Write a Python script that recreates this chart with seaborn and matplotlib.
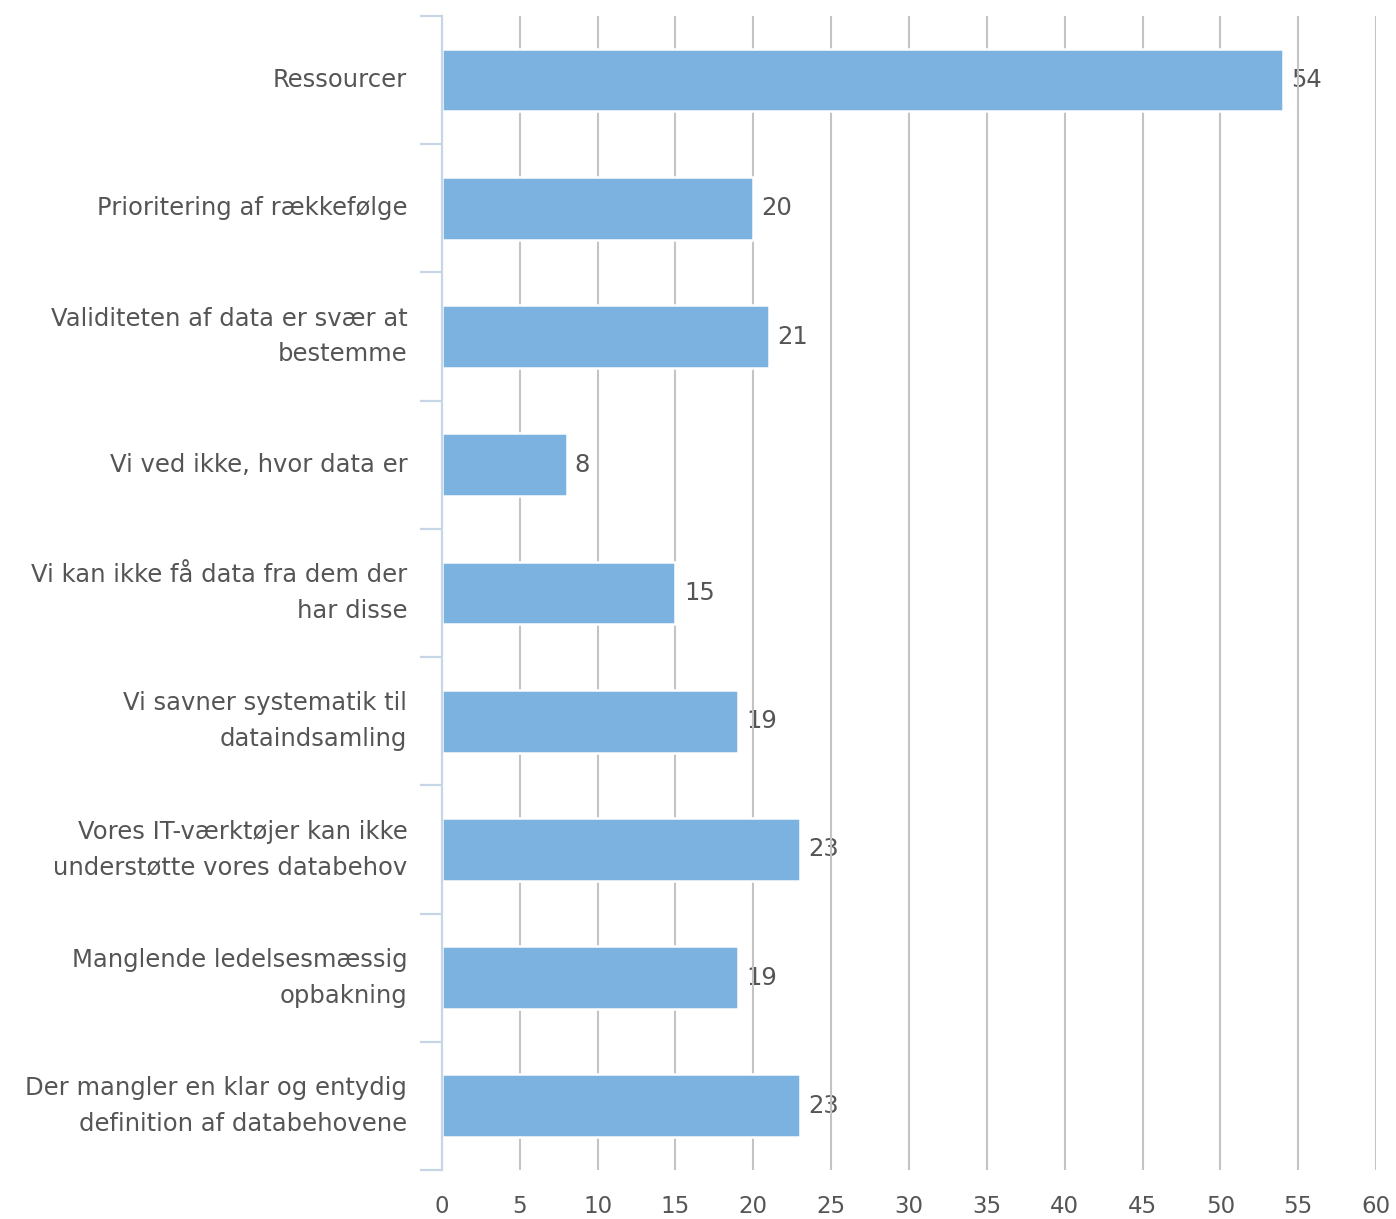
import matplotlib
matplotlib.use("Agg")
import matplotlib.pyplot as plt
import numpy as np
import pandas as pd
import seaborn as sns

categories = [
    "Ressourcer",
    "Prioritering af rækkefølge",
    "Validiteten af data er svær at\nbestemme",
    "Vi ved ikke, hvor data er",
    "Vi kan ikke få data fra dem der\nhar disse",
    "Vi savner systematik til\ndataindsamling",
    "Vores IT-værktøjer kan ikke\nunderstøtte vores databehov",
    "Manglende ledelsesmæssig\nopbakning",
    "Der mangler en klar og entydig\ndefinition af databehovene",
]
values = [54, 20, 21, 8, 15, 19, 23, 19, 23]
x_ticks = list(range(0, 61, 5))

bar_color = "#7cb2df"
text_color = "#555555"
grid_color = "#c4c4c4"
axis_color = "#c6d6e6"

sns.set_theme(style="white")
plt.rcParams["font.family"] = ["DejaVu Sans"]

df = pd.DataFrame({"category": categories, "value": values})

fig = plt.figure(figsize=(13.96, 12.19), dpi=100)
ax = fig.add_axes([0.3166, 0.0402, 0.9857 - 0.3166, 0.9869 - 0.0402])

sns.barplot(data=df, y="category", x="value", orient="h", color=bar_color,
            width=0.49, edgecolor="white", linewidth=1.8, saturation=1,
            ax=ax, zorder=3)

ax.set_xlim(0, 60)
ax.set_ylim(len(categories) - 0.5, -0.5)
ax.set_xticks(x_ticks)
ax.set_xticklabels([str(t) for t in x_ticks])

# vertical grid behind the bars
ax.set_axisbelow(False)
for t in x_ticks[1:]:
    ax.axvline(t, color=grid_color, linewidth=1.5, zorder=2)

# value labels just past the end of each bar
for i, v in enumerate(values):
    ax.annotate(str(v), xy=(v, i), xytext=(6, 0), textcoords="offset points",
                ha="left", va="center", fontsize=17.5, color=text_color, zorder=1)

for side in ["top", "right", "bottom"]:
    ax.spines[side].set_visible(False)
ax.spines["left"].set_color(axis_color)
ax.spines["left"].set_linewidth(1.6)
ax.spines["left"].set_zorder(4)

# category boundaries as tick marks on the left axis
ax.set_yticks(np.arange(-0.5, len(categories), 1.0), minor=True)
ax.tick_params(axis="y", which="minor", length=16, width=1.6, color=axis_color, left=True)
ax.tick_params(axis="y", which="major", length=0, pad=25, labelsize=17.5, labelcolor=text_color)
ax.tick_params(axis="x", which="both", length=0, pad=18, labelsize=16.5, labelcolor=text_color)
for lbl in ax.get_yticklabels():
    lbl.set_linespacing(1.62)
    lbl.set_verticalalignment("center")

ax.set_xlabel("")
ax.set_ylabel("")

fig.savefig("out.png", dpi=100, facecolor="white")
